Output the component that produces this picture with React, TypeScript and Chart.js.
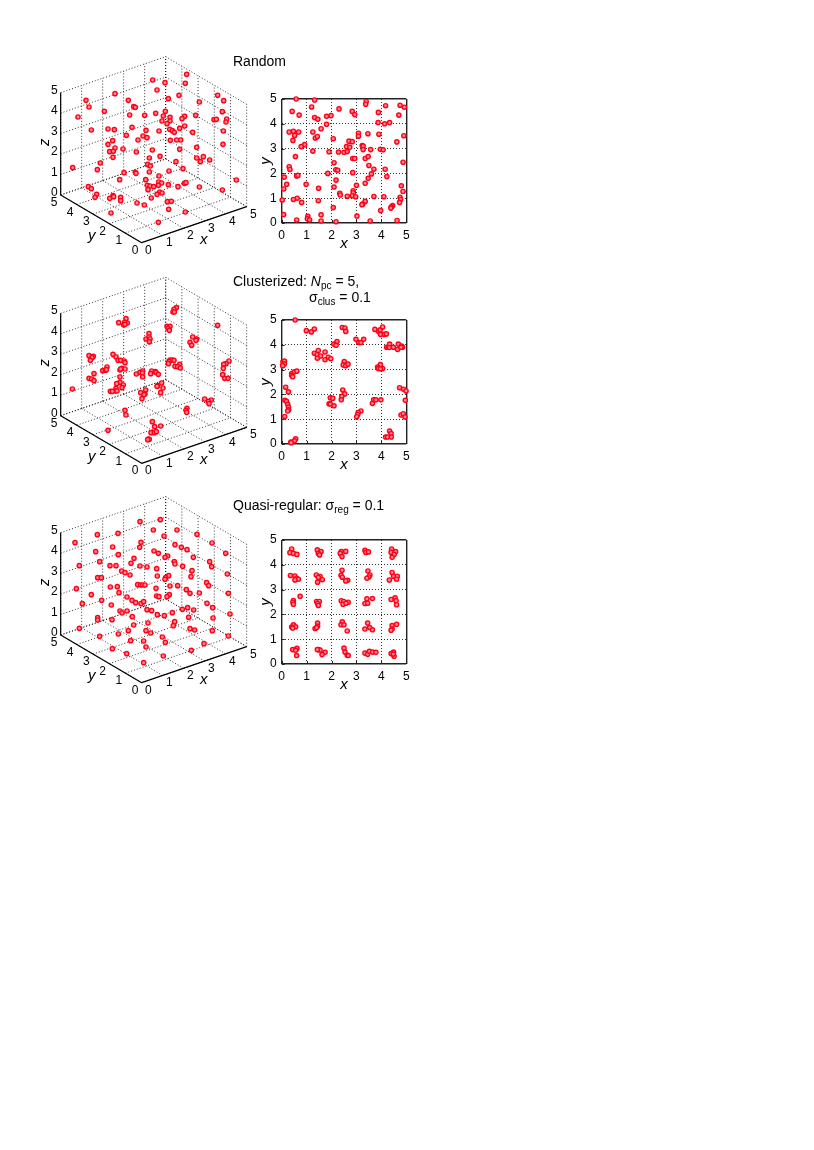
import React, { useEffect, useRef } from "react";
import { Chart, registerables } from "chart.js";

Chart.register(...registerables);

const FONT = '"Liberation Sans", Arial, sans-serif';
const axisTicks = [0, 1, 2, 3, 4, 5];
const RED = "#ff0018";
const PINK = "#ff8d94";

// x, y values read from the flat (x-y) panels
const randomXY: number[][] = [
  [0.58,5.0],[1.32,4.96],[3.39,4.9],[3.37,4.79],[4.75,4.75],[4.92,4.67],[1.2,4.68],[4.17,4.73],[2.3,4.6],[0.42,4.5],[2.83,4.5],[3.88,4.46],[0.7,4.35],[2.93,4.37],[4.7,4.35],[1.32,4.25],[1.45,4.18],[1.8,4.3],[1.98,4.33],[3.87,4.05],[4.13,4.0],[4.33,4.05],[1.8,3.98],[1.58,3.8],[0.3,3.67],[0.47,3.7],[0.52,3.53],[0.68,3.67],[1.25,3.67],[3.08,3.62],[3.08,3.5],[3.46,3.6],[3.9,3.58],[4.9,3.52],[1.35,3.43],[1.43,3.49],[0.45,3.33],[2.07,3.4],[2.7,3.3],[2.83,3.28],[4.62,3.27],[0.92,3.16],[0.78,3.08],[2.6,3.08],[2.73,3.05],[3.23,3.12],[3.27,3.1],[3.27,2.96],[3.57,2.96],[3.96,2.97],[4.07,2.95],[1.25,2.9],[1.9,2.87],[2.28,2.86],[2.5,2.85],[2.63,2.88],[0.55,2.68],[2.85,2.6],[2.93,2.6],[3.35,2.6],[3.47,2.68],[2.1,2.43],[4.87,2.45],[0.3,2.27],[0.33,2.16],[3.5,2.32],[3.7,2.17],[4.15,2.17],[2.17,2.15],[2.25,2.13],[1.85,2.0],[2.85,2.03],[3.6,1.98],[0.6,1.9],[0.65,1.92],[0.1,1.85],[4.22,1.87],[3.47,1.8],[2.18,1.73],[0.2,1.56],[0.98,1.56],[3.35,1.6],[3.0,1.52],[2.1,1.45],[4.8,1.5],[0.08,1.37],[1.48,1.4],[4.87,1.27],[2.87,1.3],[2.87,1.22],[2.33,1.2],[2.35,1.13],[2.63,1.08],[2.83,1.1],[2.97,1.06],[3.7,1.07],[4.1,1.06],[4.75,1.04],[4.77,0.95],[0.62,1.0],[0.47,0.95],[0.02,0.93],[1.47,0.9],[0.8,0.83],[4.73,0.83],[3.35,0.87],[3.25,0.76],[3.22,0.74],[4.45,0.7],[4.4,0.65],[4.38,0.6],[2.07,0.62],[3.97,0.5],[0.08,0.34],[1.58,0.33],[1.05,0.27],[3.02,0.28],[1.03,0.17],[1.12,0.12],[0.6,0.12],[1.58,0.08],[2.18,0.05],[3.55,0.08],[4.63,0.1],
];

const clusterXY: number[][] = [
  [0.54,5.0],[0.99,4.57],[1.19,4.52],[1.31,4.64],[2.43,4.7],[2.54,4.68],[2.57,4.54],[3.74,4.62],[3.89,4.54],[3.95,4.6],[4.05,4.72],[3.97,4.42],[4.12,4.42],[4.2,4.44],[2.98,4.22],[3.09,4.09],[3.18,4.09],[3.29,4.22],[2.09,4.03],[2.22,4.13],[2.18,3.98],[4.21,3.9],[4.27,3.9],[4.33,4.03],[4.32,3.89],[4.48,3.9],[4.65,3.81],[4.68,4.03],[4.81,3.95],[4.85,3.9],[4.79,3.9],[1.31,3.66],[1.47,3.77],[1.42,3.6],[1.56,3.55],[1.43,3.46],[1.74,3.71],[1.74,3.4],[1.87,3.5],[1.97,3.44],[0.05,3.31],[0.11,3.34],[0.11,3.23],[0.04,3.16],[2.51,3.32],[2.47,3.19],[2.57,3.16],[2.66,3.22],[0.4,2.84],[0.51,2.91],[0.61,2.94],[0.4,2.76],[0.44,2.71],[3.96,3.2],[3.85,3.1],[3.88,3.04],[4.05,3.04],[3.96,3.03],[0.16,2.29],[0.27,2.1],[4.73,2.27],[4.89,2.21],[4.99,2.14],[4.96,1.76],[2.45,2.18],[2.53,2.02],[2.41,1.92],[2.39,1.78],[1.95,1.86],[2.05,1.84],[1.9,1.62],[1.95,1.61],[2.1,1.54],[0.13,1.76],[0.19,1.72],[0.24,1.6],[0.27,1.49],[0.28,1.38],[0.24,1.33],[0.12,1.11],[3.64,1.64],[3.69,1.78],[3.78,1.78],[3.98,1.78],[3.18,1.33],[3.07,1.27],[3.05,1.19],[3.01,1.1],[4.79,1.17],[4.88,1.22],[4.95,1.09],[4.33,0.52],[4.39,0.42],[4.17,0.28],[4.25,0.28],[4.4,0.28],[0.56,0.21],[0.51,0.13],[0.37,0.08],[0.38,0.05],
];

const regularXY: number[][] = [
  [0.4,4.64],[0.33,4.49],[0.47,4.46],[0.61,4.42],[1.43,4.6],[1.58,4.53],[1.47,4.46],[1.52,4.4],[2.39,4.53],[2.57,4.54],[2.35,4.46],[2.42,4.33],[3.34,4.58],[3.38,4.5],[3.48,4.52],[4.41,4.64],[4.57,4.53],[4.39,4.5],[4.51,4.42],[4.43,4.3],
  [0.35,3.57],[0.53,3.55],[0.6,3.46],[0.67,3.42],[0.53,3.39],[1.39,3.59],[1.54,3.53],[1.63,3.4],[1.47,3.49],[1.44,3.3],[2.42,3.78],[2.38,3.58],[2.43,3.5],[2.65,3.38],[2.57,3.35],[3.46,3.75],[3.54,3.59],[3.5,3.51],[3.42,3.46],[4.43,3.69],[4.49,3.54],[4.32,3.39],[4.64,3.54],[4.61,3.42],
  [0.74,2.73],[0.47,2.56],[0.45,2.49],[0.47,2.41],[1.4,2.52],[1.51,2.52],[1.44,2.44],[1.47,2.36],[2.39,2.55],[2.49,2.52],[2.46,2.41],[2.67,2.49],[2.58,2.45],[3.42,2.63],[3.64,2.64],[3.34,2.44],[3.45,2.45],[4.39,2.6],[4.55,2.67],[4.59,2.55],[4.61,2.39],
  [0.47,1.58],[0.4,1.49],[0.56,1.5],[0.44,1.45],[1.44,1.65],[1.44,1.53],[1.34,1.43],[1.4,1.47],[2.43,1.7],[2.38,1.58],[2.5,1.58],[2.63,1.33],[3.45,1.65],[3.34,1.41],[3.53,1.47],[3.64,1.38],[4.61,1.6],[4.43,1.55],[4.43,1.41],[4.39,1.36],
  [0.44,0.58],[0.61,0.63],[0.56,0.55],[0.6,0.34],[1.47,0.58],[1.54,0.56],[1.74,0.47],[1.62,0.38],[1.43,0.58],[2.5,0.64],[2.54,0.48],[2.63,0.35],[2.67,0.34],[3.34,0.44],[3.45,0.39],[3.52,0.51],[3.65,0.48],[3.78,0.47],[4.49,0.48],[4.39,0.42],[4.51,0.31],[4.48,0.4],
];

// Positions on the 3D view plane (the points' x, y, z only survive as a projection)
const randomView: number[][] = [
  [470,103],[368,120],[405,128],[466,130],[381,150],[255,161],[447,166],[563,166],[415,176],[168,181],[295,181],[581,182],[508,186],[177,201],[311,200],[316,202],[223,214],[406,214],[577,215],[299,225],[344,226],[377,220],[400,228],[420,232],[464,229],[456,236],[497,226],[552,239],[559,238],[590,237],[144,231],[396,243],[420,243],[588,246],[411,251],[464,258],[449,265],[306,262],[184,270],[234,267],[253,269],[348,271],[387,273],[419,268],[427,272],[433,277],[488,277],[580,273],[289,286],[339,288],[351,293],[248,302],[324,300],[421,301],[440,300],[452,300],[234,313],[579,313],[255,324],[279,327],[367,330],[449,328],[500,322],[239,335],[250,334],[319,336],[390,349],[249,352],[358,354],[500,354],[520,350],[511,365],[539,360],[211,369],[438,365],[353,373],[361,378],[128,383],[202,389],[459,386],[417,393],[282,398],[316,397],[318,400],[358,396],[387,408],[269,419],[347,419],[619,420],[386,426],[395,429],[415,434],[385,436],[352,436],[360,438],[371,440],[354,449],[463,430],[468,428],[444,440],[508,441],[577,450],[175,440],[184,446],[389,456],[396,459],[381,463],[200,463],[195,472],[239,475],[249,467],[251,470],[272,472],[272,482],[364,474],[321,489],[343,495],[412,485],[424,484],[416,508],[466,516],[243,519],[385,547],
];

const clusterView: number[][] = [
  [439,128],[432,133],[429,141],[433,141],[563,181],[288,161],[266,173],[292,174],[284,172],[281,180],[285,178],[411,184],[420,184],[414,190],[418,196],[357,206],[348,222],[357,216],[360,222],[358,230],[488,216],[500,222],[498,226],[480,232],[485,241],[597,288],[588,296],[581,298],[580,310],[578,329],[584,340],[594,340],[249,268],[258,276],[264,286],[272,286],[283,288],[285,293],[177,272],[190,274],[186,278],[181,286],[218,317],[226,316],[231,306],[229,314],[270,315],[275,310],[285,312],[272,312],[192,326],[177,340],[185,342],[192,347],[420,285],[426,285],[432,286],[417,290],[415,296],[449,298],[435,304],[443,305],[451,309],[319,327],[330,322],[338,318],[337,324],[338,336],[365,318],[362,326],[376,320],[378,322],[385,328],[270,336],[270,352],[260,356],[280,360],[276,368],[258,370],[256,378],[261,378],[241,379],[247,379],[127,372],[395,354],[383,362],[381,364],[399,369],[392,383],[347,375],[345,387],[332,383],[336,401],[342,389],[524,402],[544,405],[535,409],[537,416],[285,436],[288,450],[471,430],[468,436],[470,442],[367,470],[374,485],[392,483],[363,503],[373,503],[379,500],[234,496],[355,522],[358,523],[353,524],
];

const regularView: number[][] = [
  [391,89],[330,95],[441,120],[370,120],[264,130],[202,134],[402,138],[501,133],[135,158],[333,157],[546,159],[248,171],[329,172],[435,164],[454,172],[471,179],[197,185],[372,183],[385,190],[587,190],[265,194],[413,198],[405,202],[490,202],[312,205],[209,215],[303,220],[433,215],[435,222],[539,215],[545,230],[148,227],[240,227],[258,227],[330,228],[351,231],[380,236],[458,229],[486,242],[275,243],[285,248],[300,255],[592,252],[382,258],[416,257],[407,263],[405,268],[483,260],[203,263],[214,263],[530,278],[536,287],[323,284],[332,285],[338,285],[345,285],[420,288],[443,287],[241,291],[262,290],[378,295],[139,296],[267,308],[469,299],[480,310],[508,309],[595,310],[184,314],[380,318],[387,320],[418,314],[411,320],[291,321],[215,331],[306,331],[317,338],[333,341],[341,335],[531,340],[157,341],[244,345],[548,353],[473,353],[457,358],[491,360],[351,359],[365,362],[270,363],[291,363],[276,369],[382,374],[403,377],[427,368],[600,372],[476,382],[549,384],[307,380],[203,383],[203,390],[246,389],[434,395],[430,407],[354,399],[311,405],[480,416],[494,420],[547,422],[148,415],[295,422],[348,422],[362,429],[265,432],[209,439],[397,441],[595,438],[302,452],[341,453],[406,457],[522,461],[348,471],[247,476],[484,481],[290,491],[400,498],[341,518],
];

// View-plane projection of the box: units per axis step
const VIEW = { ox: 335, xh: 63, yh: 48.6, xv: 21.6, yv: 28.6, zv: 61.4 };

function FlatPanel({ points, top }: { points: number[][]; top: number }) {
  const ref = useRef<HTMLCanvasElement>(null);
  useEffect(() => {
    const edge = (c: any) => c.tick && (c.tick.value === 0 || c.tick.value === 5);
    const grid = {
      drawTicks: false,
      color: (c: any) => (edge(c) ? "#222" : "#000"),
      lineWidth: (c: any) => (edge(c) ? 1.4 : 0.8),
    };
    const border = { display: false, dash: (c: any) => (edge(c) ? [] : [1, 2]) };
    const ticks = {
      stepSize: 1,
      autoSkip: false,
      maxRotation: 0,
      color: "#000",
      font: { family: FONT, size: 12 },
      padding: 5,
    };
    const title = (text: string, padding: any) => ({
      display: true,
      text,
      color: "#000",
      font: { family: FONT, size: 15, style: "italic" as const },
      padding,
    });
    const innerTicks = {
      id: "innerTicks",
      beforeDatasetsDraw(c: any) {
        const { ctx, scales, chartArea } = c;
        ctx.save();
        ctx.strokeStyle = "#222";
        ctx.lineWidth = 1;
        ctx.beginPath();
        for (const t of axisTicks) {
          const px = Math.round(scales.x.getPixelForValue(t)) + 0.5;
          ctx.moveTo(px, chartArea.bottom);
          ctx.lineTo(px, chartArea.bottom - 3);
          const py = Math.round(scales.y.getPixelForValue(t)) + 0.5;
          ctx.moveTo(chartArea.left, py);
          ctx.lineTo(chartArea.left + 3, py);
        }
        ctx.stroke();
        ctx.restore();
      },
    };
    const noScalePadding = (s: any) => {
      s.paddingTop = 0;
      s.paddingBottom = 0;
      s.paddingLeft = 0;
      s.paddingRight = 0;
    };
    const chart = new Chart(ref.current!, {
      type: "scatter",
      data: {
        datasets: [
          {
            data: points.map(([x, y]) => ({ x, y })),
            pointRadius: 2.1,
            borderWidth: 1.4,
            borderColor: RED,
            backgroundColor: PINK,
            clip: false,
          } as any,
        ],
      },
      options: {
        animation: false,
        responsive: false,
        events: [],
        layout: { autoPadding: false, padding: { top: 10, right: 13.7, left: 0, bottom: 0 } },
        plugins: { legend: { display: false }, tooltip: { enabled: false } },
        scales: {
          x: {
            type: "linear",
            min: 0,
            max: 5,
            grid,
            border,
            ticks,
            title: title("x", { top: 0, bottom: 0 }),
            afterFit: (s: any) => {
              s.height = 30;
              noScalePadding(s);
            },
          },
          y: {
            type: "linear",
            min: 0,
            max: 5,
            grid,
            border,
            ticks,
            title: title("y", { top: 12, bottom: 0 }),
            afterFit: (s: any) => {
              s.width = 36.7;
              noScalePadding(s);
            },
          },
        },
      } as any,
      plugins: [innerTicks],
    });
    return () => chart.destroy();
  }, [points]);
  return (
    <canvas
      ref={ref}
      width={175}
      height={164}
      style={{ position: "absolute", left: 245, top }}
    />
  );
}

function BoxPanel({ points, top, oy }: { points: number[][]; top: number; oy: number }) {
  const ref = useRef<HTMLCanvasElement>(null);
  useEffect(() => {
    const project = (x: number, y: number, z: number) => ({
      x: VIEW.ox + VIEW.xh * x - VIEW.yh * y,
      y: oy - VIEW.xv * x - VIEW.yv * y - VIEW.zv * z,
    });
    const segments: any[] = [];
    const line = (a: number[], b: number[], solid = false) =>
      segments.push({
        type: "scatter",
        showLine: true,
        data: [project(a[0], a[1], a[2]), project(b[0], b[1], b[2])],
        borderColor: "#000",
        borderWidth: solid ? 1.2 : 0.8,
        borderDash: solid ? [] : [1, 2],
        pointRadius: 0,
        clip: false,
        order: solid ? 2 : 3,
      });
    for (const t of axisTicks) {
      line([t, 0, 0], [t, 5, 0]);
      line([0, t, 0], [5, t, 0]);
      line([t, 5, 0], [t, 5, 5]);
      line([5, t, 0], [5, t, 5]);
      line([0, 5, t], [5, 5, t]);
      line([5, 0, t], [5, 5, t]);
    }
    line([0, 0, 0], [5, 0, 0], true);
    line([0, 0, 0], [0, 5, 0], true);
    line([0, 5, 0], [0, 5, 5], true);

    const labels = {
      id: "boxLabels",
      afterDatasetsDraw(c: any) {
        const { ctx, scales } = c;
        const put = (text: string, vx: number, vy: number, font: string, rot = 0) => {
          ctx.save();
          ctx.translate(scales.x.getPixelForValue(vx), scales.y.getPixelForValue(vy));
          ctx.rotate(rot);
          ctx.font = font;
          ctx.fillStyle = "#000";
          ctx.textAlign = "center";
          ctx.textBaseline = "middle";
          ctx.fillText(text, 0, 0);
          ctx.restore();
        };
        const tf = `12px ${FONT}`;
        const af = `italic 15px ${FONT}`;
        for (const t of axisTicks) {
          const px = project(t, 0, 0);
          put(String(t), px.x + 20, px.y + 23, tf);
          const py = project(0, t, 0);
          put(String(t), py.x - 20, py.y + 23, tf);
          const pz = project(0, 5, t);
          put(String(t), pz.x - 19, pz.y - 7, tf);
        }
        const tx = project(3, 0, 0);
        put("x", tx.x - 3, tx.y + 55, af);
        const ty = project(0, 3, 0);
        put("y", ty.x - 4, ty.y + 65, af);
        const tz = project(0, 5, 2.5);
        put("z", tz.x - 47, tz.y - 5, af, -Math.PI / 2);
      },
    };

    const chart = new Chart(ref.current!, {
      type: "scatter",
      data: {
        datasets: [
          {
            data: points.map(([x, y]) => ({ x, y })),
            pointRadius: 2.1,
            borderWidth: 1.4,
            borderColor: RED,
            backgroundColor: PINK,
            clip: false,
            order: 1,
          },
          ...segments,
        ],
      },
      options: {
        animation: false,
        responsive: false,
        events: [],
        layout: { autoPadding: false, padding: 0 },
        plugins: { legend: { display: false }, tooltip: { enabled: false } },
        scales: {
          x: { type: "linear", display: false, min: 0, max: 720 },
          y: { type: "linear", display: false, min: 0, max: 690, reverse: true },
        },
      } as any,
      plugins: [labels],
    });
    return () => chart.destroy();
  }, [points, top, oy]);
  return (
    <canvas
      ref={ref}
      width={240}
      height={230}
      style={{ position: "absolute", left: 30, top }}
    />
  );
}

const titleStyle: React.CSSProperties = {
  position: "absolute",
  fontFamily: FONT,
  fontSize: 14,
  lineHeight: "16px",
  whiteSpace: "nowrap",
  color: "#000",
  zIndex: 2,
};
const Sub = ({ children }: { children: React.ReactNode }) => (
  <span style={{ fontSize: 10, position: "relative", top: 3 }}>{children}</span>
);

export default function App() {
  return (
    <div style={{ position: "fixed", left: 0, top: 0, width: 814, height: 1150, background: "#fff" }}>
      <BoxPanel points={randomView} top={40} oy={608} />
      <BoxPanel points={clusterView} top={265} oy={595} />
      <BoxPanel points={regularView} top={490} oy={578} />
      <FlatPanel points={randomXY} top={89} />
      <FlatPanel points={clusterXY} top={310} />
      <FlatPanel points={regularXY} top={530} />
      <div style={{ ...titleStyle, left: 233, top: 53 }}>Random</div>
      <div style={{ ...titleStyle, left: 233, top: 273 }}>
        Clusterized: <i>N</i>
        <Sub>pc</Sub> = 5,
      </div>
      <div style={{ ...titleStyle, left: 309, top: 289 }}>
        σ<Sub>clus</Sub> = 0.1
      </div>
      <div style={{ ...titleStyle, left: 233, top: 497 }}>
        Quasi-regular: σ<Sub>reg</Sub> = 0.1
      </div>
    </div>
  );
}
